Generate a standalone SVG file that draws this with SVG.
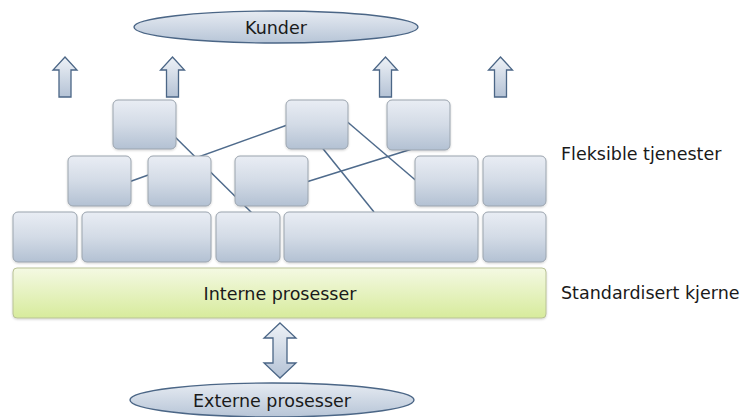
<svg xmlns="http://www.w3.org/2000/svg" width="744" height="417" viewBox="0 0 744 417">
  <style>
    .box { fill: url(#boxFill); stroke: #9ba4ae; stroke-width: 1; filter: url(#shadow); }
    .core { fill: url(#coreFill); stroke: #b9c296; stroke-width: 1; filter: url(#shadow); }
    .oval { fill: url(#ovalFill); stroke: #4b6686; stroke-width: 1.4; }
    .arrow { fill: url(#arrowFill); stroke: #4b6686; stroke-width: 1.3; stroke-linejoin: miter; }
    .link { stroke: #4f6b8c; stroke-width: 1.5; fill: none; }
    .label { font-family: "DejaVu Sans", Verdana, sans-serif; font-size: 17.5px; fill: #1a1a1a; }
  </style>
  <defs>
    <linearGradient id="boxFill" x1="0" y1="0" x2="0" y2="1">
      <stop offset="0" stop-color="#e9edf4"/>
      <stop offset="0.5" stop-color="#d3dbe6"/>
      <stop offset="1" stop-color="#b3c1d3"/>
    </linearGradient>
    <linearGradient id="coreFill" x1="0" y1="0" x2="0" y2="1">
      <stop offset="0" stop-color="#f4f9e3"/>
      <stop offset="1" stop-color="#d7eb9c"/>
    </linearGradient>
    <linearGradient id="ovalFill" x1="0" y1="0" x2="0" y2="1">
      <stop offset="0" stop-color="#e6ebf2"/>
      <stop offset="1" stop-color="#b7c5d7"/>
    </linearGradient>
    <linearGradient id="arrowFill" x1="0" y1="0" x2="0" y2="1">
      <stop offset="0" stop-color="#eef2f7"/>
      <stop offset="1" stop-color="#b4c2d5"/>
    </linearGradient>
    <filter id="shadow" x="-10%" y="-10%" width="120%" height="130%">
      <feDropShadow dx="0" dy="1" stdDeviation="1" flood-color="#000" flood-opacity="0.18"/>
    </filter>
  </defs>

  <!-- links between services, drawn beneath the blocks -->
  <g id="connectors">
    <line class="link" x1="168" y1="130" x2="252" y2="213"/>
    <line class="link" x1="126" y1="183" x2="290" y2="124"/>
    <line class="link" x1="320" y1="145" x2="374" y2="212"/>
    <line class="link" x1="344" y1="119" x2="420" y2="184"/>
    <line class="link" x1="303" y1="183" x2="412" y2="149"/>
  </g>

  <!-- top row of services -->
  <g id="s1a"><rect class="box" x="113" y="100" width="63" height="49" rx="5"/></g>
  <g id="s1b"><rect class="box" x="286" y="100" width="62" height="49" rx="5"/></g>
  <g id="s1c"><rect class="box" x="387" y="100" width="63" height="50" rx="5"/></g>

  <!-- middle row -->
  <g id="s2a"><rect class="box" x="68" y="156" width="63" height="50" rx="5"/></g>
  <g id="s2b"><rect class="box" x="148" y="156" width="63" height="50" rx="5"/></g>
  <g id="s2c"><rect class="box" x="235" y="156" width="73" height="50" rx="5"/></g>
  <g id="s2d"><rect class="box" x="415" y="156" width="63" height="50" rx="5"/></g>
  <g id="s2e"><rect class="box" x="483" y="156" width="63" height="50" rx="5"/></g>

  <!-- bottom row -->
  <g id="s3a"><rect class="box" x="13" y="212" width="64" height="50" rx="5"/></g>
  <g id="s3b"><rect class="box" x="82" y="212" width="129" height="50" rx="5"/></g>
  <g id="s3c"><rect class="box" x="216" y="212" width="64" height="50" rx="5"/></g>
  <g id="s3d"><rect class="box" x="284" y="212" width="194" height="50" rx="5"/></g>
  <g id="s3e"><rect class="box" x="483" y="212" width="63" height="50" rx="5"/></g>

  <!-- core layer -->
  <g id="core">
    <rect class="core" x="13" y="268" width="533" height="50" rx="4"/>
    <text class="label" x="280" y="300" text-anchor="middle">Interne prosesser</text>
  </g>

  <!-- customers -->
  <g id="kunder">
    <ellipse class="oval" cx="276" cy="27" rx="142" ry="16"/>
    <text class="label" x="276" y="34" text-anchor="middle">Kunder</text>
  </g>

  <!-- upward arrows -->
  <g id="up1"><path class="arrow" d="M65,57 L77,70 L71,70 L71,97 L59,97 L59,70 L53,70 Z"/></g>
  <g id="up2"><path class="arrow" d="M172.5,57 L184.5,70 L178.5,70 L178.5,97 L166.5,97 L166.5,70 L160.5,70 Z"/></g>
  <g id="up3"><path class="arrow" d="M385.5,57 L397.5,70 L391.5,70 L391.5,97 L379.5,97 L379.5,70 L373.5,70 Z"/></g>
  <g id="up4"><path class="arrow" d="M500.5,57 L512.5,70 L506.5,70 L506.5,97 L494.5,97 L494.5,70 L488.5,70 Z"/></g>

  <!-- exchange with external processes -->
  <g id="exchange"><path class="arrow" d="M280,323 L296,338 L287,338 L287,363 L296,363 L280,378 L264,363 L273,363 L273,338 L264,338 Z"/></g>

  <g id="externe">
    <ellipse class="oval" cx="272" cy="400" rx="142" ry="17"/>
    <text class="label" x="272" y="407" text-anchor="middle">Externe prosesser</text>
  </g>

  <!-- layer captions -->
  <g id="caption-flex"><text class="label" x="561" y="160">Fleksible tjenester</text></g>
  <g id="caption-core"><text class="label" x="561" y="299">Standardisert kjerne</text></g>
</svg>
